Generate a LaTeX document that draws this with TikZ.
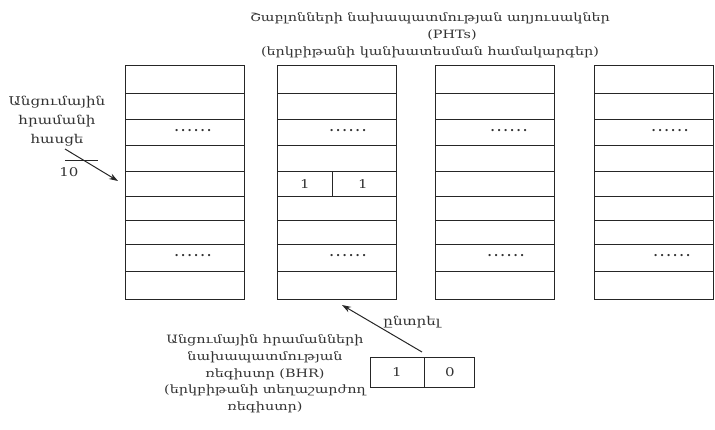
\documentclass[tikz,border=0pt]{standalone}
\usepackage{fontspec}
\setmainfont{DejaVu Serif}
\newfontfamily\widefont{DejaVu Serif}[FakeStretch=1.25]
\usetikzlibrary{arrows.meta}
\newcommand{\sixdots}{.\kern2.3pt.\kern2.3pt.\kern2.3pt.\kern2.3pt.\kern2.3pt.}
\begin{document}
\begin{tikzpicture}[x=1pt,y=-1pt,line width=0.9pt,
  lbl/.style={align=center,font=\widefont\fontsize{11.5}{16.7}\selectfont,text=black!80,inner sep=0pt},
  ttl/.style={align=center,font=\widefont\fontsize{11.5}{17}\selectfont,text=black!80,inner sep=0pt},
  side/.style={align=center,font=\widefont\fontsize{12.1}{19}\selectfont,text=black!80,inner sep=0pt},
  num/.style={font=\widefont\fontsize{12}{13}\selectfont,text=black!80,inner sep=0pt},
  dotsnode/.style={font=\bfseries\fontsize{12}{12}\selectfont,text=black!80,inner sep=0pt},
  arr/.style={-{Stealth[length=9pt,width=6pt]},line width=1pt,draw=black!85}]
\useasboundingbox (0,0) rectangle (715,429);
% tables
\foreach \xl [count=\i] in {125,277,435.5,594.5}{
  \draw[black!85] (\xl,65) rectangle ++(119,234);
  \foreach \yy in {93,119,145.5,171,196,220,244.5,271}
    \draw[black!85] (\xl,\yy) -- ++(119,0);
  \coordinate (t\i) at (\xl,65);
}
\draw[black!85] (332,171) -- (332,196);
% dots
\node[dotsnode] (d1a) at (193,131) {\sixdots};
\node[dotsnode] (d1b) at (193,256) {\sixdots};
\node[dotsnode] (d2a) at (348,131) {\sixdots};
\node[dotsnode] (d2b) at (348,256) {\sixdots};
\node[dotsnode] (d3a) at (509,131) {\sixdots};
\node[dotsnode] (d3b) at (506,256) {\sixdots};
\node[dotsnode] (d4a) at (670,131) {\sixdots};
\node[dotsnode] (d4b) at (672,256) {\sixdots};
% cells in table 2
\node[num] (c1) at (305,184) {1};
\node[num] (c2) at (363,184) {1};
% title
\node[ttl] (title1) at (430,18) {Շաբլոնների նախապատմության աղյուսակներ};
\node[ttl] (title2) at (452,35) {(PHTs)};
\node[ttl] (title3) at (430,52) {(երկբիթանի կանխատեսման համակարգեր)};
% address label
\node[side] (addr) at (57,121) {Անցումային\\հրամանի\\հասցե};
\node[num] (ten) at (69,172) {10};
\draw[black!85] (65,160) -- (98,160);
\coordinate (astart) at (65,149);
\coordinate (aend) at (118,181);
\draw[arr] (astart) -- (aend);
% BHR
\draw[black!85] (370,357) rectangle (474,387);
\draw[black!85] (424,357) -- (424,387);
\node[num] (b1) at (397,372) {1};
\node[num] (b0) at (450,372) {0};
\coordinate (bstart) at (422,352);
\coordinate (bend) at (342,305);
\draw[arr] (bstart) -- (bend);
\node[side] (select) at (412,322) {ընտրել};
\node[lbl] (bhr) at (265,374) {Անցումային հրամանների\\նախապատմության\\ռեգիստր (BHR)\\(երկբիթանի տեղաշարժող\\ռեգիստր)};
\end{tikzpicture}
\end{document}
